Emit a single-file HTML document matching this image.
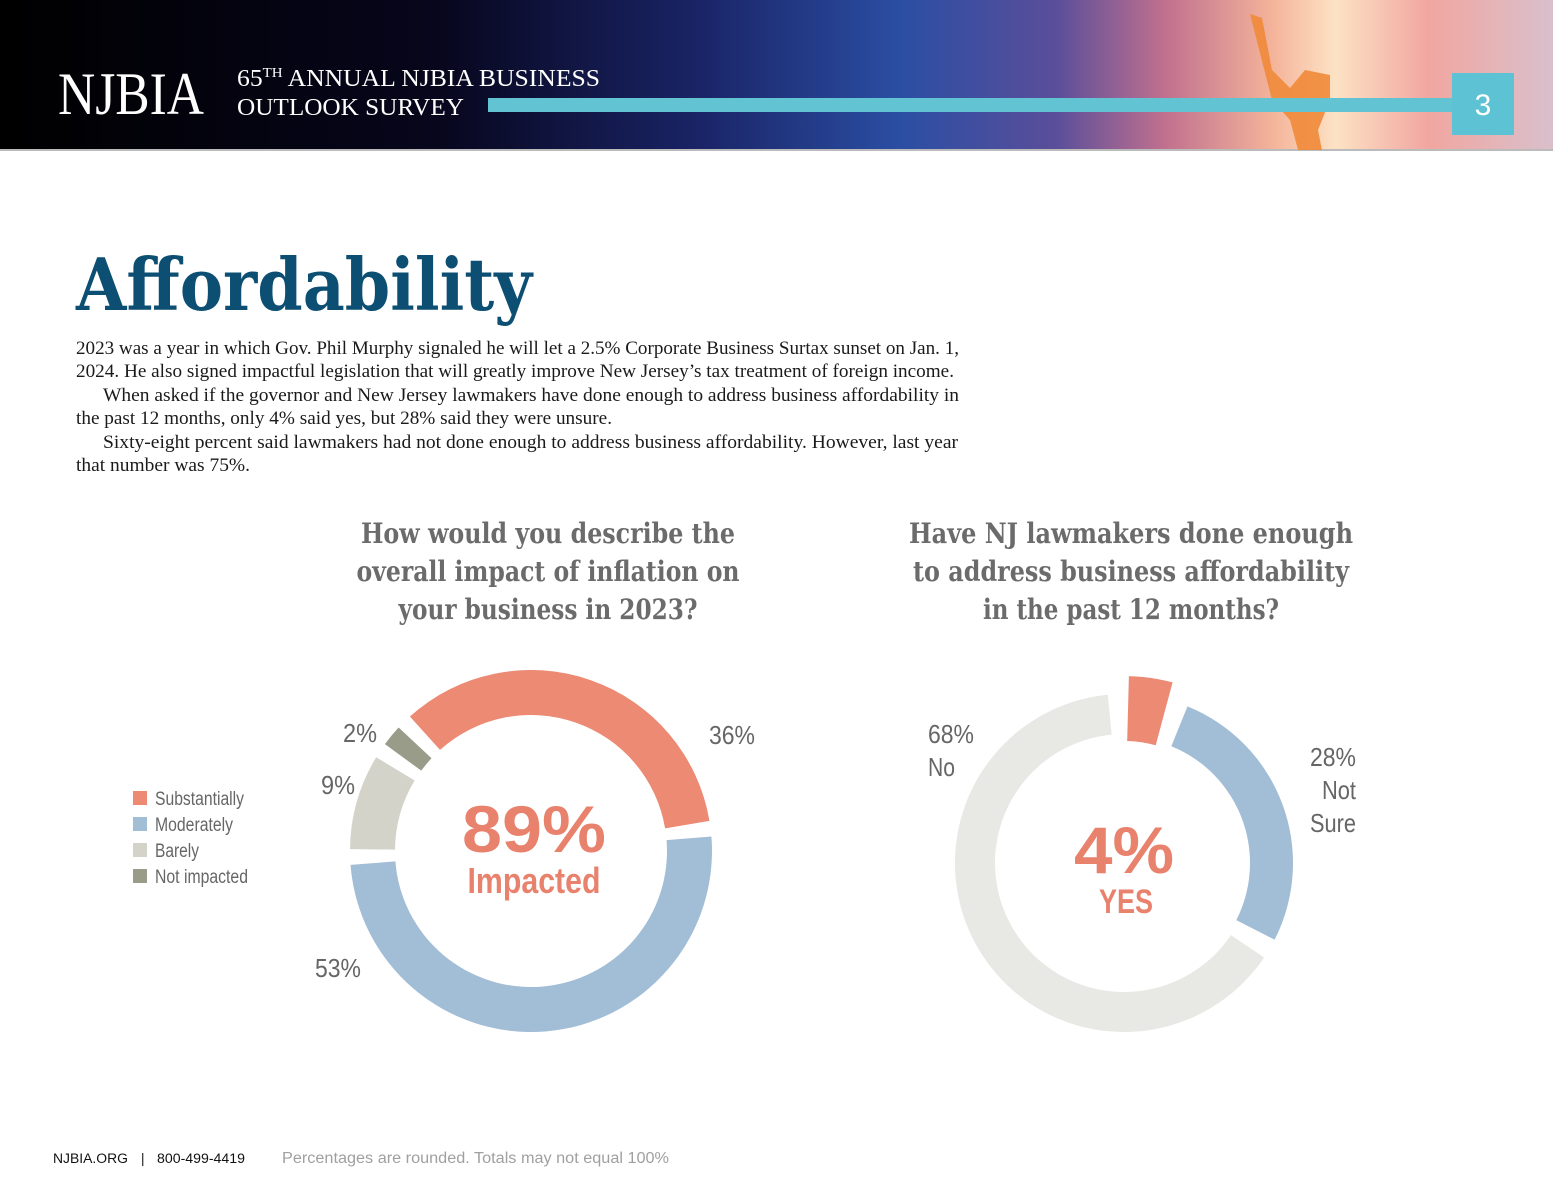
<!DOCTYPE html>
<html><head><meta charset="utf-8"><style>
html,body{margin:0;padding:0;background:#fff;}
svg{display:block;}
.body{font-family:"Liberation Serif",serif;font-size:18.5px;fill:#1a1a1a;}
.ct{font-family:"DejaVu Serif","Liberation Serif",serif;font-weight:bold;font-size:28px;fill:#6b6b6b;}
.lab{font-family:"Liberation Sans Narrow","Liberation Sans",sans-serif;font-size:26px;fill:#666;}
.leg{font-family:"Liberation Sans Narrow","Liberation Sans",sans-serif;font-size:19px;fill:#666;}
</style></head><body>
<svg id="page" width="1553" height="1200" viewBox="0 0 1553 1200">
<defs>
<linearGradient id="hdr" x1="0" x2="1" y1="0" y2="0">
<stop offset="0" stop-color="#000"/><stop offset="0.28" stop-color="#07061c"/>
<stop offset="0.45" stop-color="#1a2466"/><stop offset="0.58" stop-color="#2b4ea3"/>
<stop offset="0.68" stop-color="#5a4e9a"/><stop offset="0.75" stop-color="#c0708e"/>
<stop offset="0.82" stop-color="#f4b49a"/><stop offset="0.86" stop-color="#fde2c4"/>
<stop offset="0.92" stop-color="#f1a6a0"/><stop offset="1" stop-color="#d9c0cc"/>
</linearGradient>
</defs>
<g>
<rect x="0" y="0" width="1553" height="150" fill="url(#hdr)"/>
<rect x="0" y="149" width="1553" height="2" fill="#bbb"/>
<path d="M1250 14 L1262 18 L1272 70 L1290 88 L1305 70 L1330 75 L1330 100 L1318 130 L1322 150 L1298 150 L1290 120 L1272 100 Z" fill="#f08a3a" opacity="0.9"/>
<text x="58" y="114" font-family="Liberation Serif,serif" font-size="60" fill="#fff" textLength="146" lengthAdjust="spacingAndGlyphs">NJBIA</text>
<text x="237" y="86" font-family="Liberation Serif,serif" font-size="24" fill="#fff" textLength="363" lengthAdjust="spacingAndGlyphs">65<tspan font-size="14" dy="-9">TH</tspan><tspan dy="9"> ANNUAL NJBIA BUSINESS</tspan></text>
<text x="237" y="115" font-family="Liberation Serif,serif" font-size="24" fill="#fff" textLength="227" lengthAdjust="spacingAndGlyphs">OUTLOOK SURVEY</text>
<rect x="488" y="98" width="964" height="14" fill="#62c3d3"/>
<rect x="1452" y="73" width="62" height="62" fill="#5dc2d4"/>
<text x="1483" y="115" text-anchor="middle" font-family="Liberation Sans,sans-serif" font-size="30" fill="#fff">3</text>
</g>
<text x="76" y="310" font-family="DejaVu Serif,serif" font-weight="bold" font-size="72" fill="#0d4f73" textLength="456" lengthAdjust="spacingAndGlyphs">Affordability</text>
<g>
<text class="body" x="76" y="354" textLength="883" lengthAdjust="spacingAndGlyphs">2023 was a year in which Gov. Phil Murphy signaled he will let a 2.5% Corporate Business Surtax sunset on Jan. 1,</text>
<text class="body" x="76" y="377" textLength="878" lengthAdjust="spacingAndGlyphs">2024. He also signed impactful legislation that will greatly improve New Jersey’s tax treatment of foreign income.</text>
<text class="body" x="103" y="401" textLength="856" lengthAdjust="spacingAndGlyphs">When asked if the governor and New Jersey lawmakers have done enough to address business affordability in</text>
<text class="body" x="76" y="424" textLength="536" lengthAdjust="spacingAndGlyphs">the past 12 months, only 4% said yes, but 28% said they were unsure.</text>
<text class="body" x="103" y="448" textLength="855" lengthAdjust="spacingAndGlyphs">Sixty-eight percent said lawmakers had not done enough to address business affordability. However, last year</text>
<text class="body" x="76" y="471" textLength="174" lengthAdjust="spacingAndGlyphs">that number was 75%.</text>
</g>
<g>
<text class="ct" x="548" y="543" text-anchor="middle" textLength="374" lengthAdjust="spacingAndGlyphs">How would you describe the</text>
<text class="ct" x="548" y="581" text-anchor="middle" textLength="383" lengthAdjust="spacingAndGlyphs">overall impact of inflation on</text>
<text class="ct" x="548" y="619" text-anchor="middle" textLength="299" lengthAdjust="spacingAndGlyphs">your business in 2023?</text>
</g>
<g>
<text class="ct" x="1131" y="543" text-anchor="middle" textLength="444" lengthAdjust="spacingAndGlyphs">Have NJ lawmakers done enough</text>
<text class="ct" x="1131" y="581" text-anchor="middle" textLength="436" lengthAdjust="spacingAndGlyphs">to address business affordability</text>
<text class="ct" x="1131" y="619" text-anchor="middle" textLength="296" lengthAdjust="spacingAndGlyphs">in the past 12 months?</text>
</g>
<g id="donut1"></g>
<g id="donut2"></g>
<g id="legend1"></g>
<g>
<text class="lab" x="343" y="742" textLength="34" lengthAdjust="spacingAndGlyphs">2%</text>
<text class="lab" x="709" y="744" textLength="46" lengthAdjust="spacingAndGlyphs">36%</text>
<text class="lab" x="321" y="794" textLength="34" lengthAdjust="spacingAndGlyphs">9%</text>
<text class="lab" x="315" y="977" textLength="46" lengthAdjust="spacingAndGlyphs">53%</text>
</g>
<g>
<text class="lab" x="928" y="743" textLength="46" lengthAdjust="spacingAndGlyphs">68%</text>
<text class="lab" x="928" y="776" textLength="27" lengthAdjust="spacingAndGlyphs">No</text>
<text class="lab" x="1356" y="766" text-anchor="end" textLength="46" lengthAdjust="spacingAndGlyphs">28%</text>
<text class="lab" x="1356" y="799" text-anchor="end" textLength="34" lengthAdjust="spacingAndGlyphs">Not</text>
<text class="lab" x="1356" y="832" text-anchor="end" textLength="46" lengthAdjust="spacingAndGlyphs">Sure</text>
</g>
<g>
<text x="534" y="852" text-anchor="middle" font-family="Liberation Sans,sans-serif" font-weight="bold" font-size="66" fill="#e8826d" textLength="144" lengthAdjust="spacingAndGlyphs">89%</text>
<text x="534" y="893" text-anchor="middle" font-family="Liberation Sans Narrow,Liberation Sans,sans-serif" font-weight="bold" font-size="36" fill="#e8826d" textLength="133" lengthAdjust="spacingAndGlyphs">Impacted</text>
</g>
<g>
<text x="1124" y="873" text-anchor="middle" font-family="Liberation Sans,sans-serif" font-weight="bold" font-size="66" fill="#e8826d" textLength="100" lengthAdjust="spacingAndGlyphs">4%</text>
<text x="1126" y="913" text-anchor="middle" font-family="Liberation Sans Narrow,Liberation Sans,sans-serif" font-weight="bold" font-size="34" fill="#e8826d" textLength="54" lengthAdjust="spacingAndGlyphs">YES</text>
</g>
<g>
<text x="53" y="1163" font-family="Liberation Sans,sans-serif" font-size="13.5" fill="#111" textLength="75" lengthAdjust="spacingAndGlyphs">NJBIA.ORG</text>
<text x="141" y="1163" font-family="Liberation Sans,sans-serif" font-size="13.5" fill="#111">|</text>
<text x="157" y="1163" font-family="Liberation Sans,sans-serif" font-size="13.5" fill="#111" textLength="88" lengthAdjust="spacingAndGlyphs">800-499-4419</text>
<text x="282" y="1163" font-family="Liberation Sans,sans-serif" font-size="15.5" fill="#a0a0a0" textLength="387" lengthAdjust="spacingAndGlyphs">Percentages are rounded. Totals may not equal 100%</text>
</g>
</svg>
<script>
const NS='http://www.w3.org/2000/svg';
const inflCategories=['Substantially','Moderately','Barely','Not impacted'];
const inflValues=[36,53,9,2];
const lawCategories=['Yes','Not Sure','No'];
const lawValues=[4,28,68];

const inflColors=['#ec8a73','#a2bdd6','#d3d3c9','#9a9c8a'];
const legendWidths=[89,78,44,93];
const lawColors=['#ec8a73','#a2bdd6','#e8e8e4'];
const lawOuter=[187,169,169], lawInner=[122,126,129];

function pt(cx,cy,r,a){const t=a*Math.PI/180;return [cx+r*Math.sin(t),cy-r*Math.cos(t)];}
function arc(cx,cy,ro,ri,a0,a1){
  const l=(a1-a0)>180?1:0;
  const p0=pt(cx,cy,ro,a0),p1=pt(cx,cy,ro,a1),p2=pt(cx,cy,ri,a1),p3=pt(cx,cy,ri,a0);
  return `M${p0[0]} ${p0[1]} A${ro} ${ro} 0 ${l} 1 ${p1[0]} ${p1[1]} L${p2[0]} ${p2[1]} A${ri} ${ri} 0 ${l} 0 ${p3[0]} ${p3[1]} Z`;
}
function donut(g,vals,cats,colors,cx,cy,start,gap,ro,ri,prefix){
  const total=vals.reduce((a,b)=>a+b,0);
  const sweep=360-gap*vals.length;
  let a=start;
  vals.forEach((v,i)=>{
    const span=v/total*sweep;
    const p=document.createElementNS(NS,'path');
    const R=Array.isArray(ro)?ro[i]:ro, r=Array.isArray(ri)?ri[i]:ri;
    p.setAttribute('d',arc(cx,cy,R,r,a,a+span));
    p.setAttribute('fill',colors[i]);
    
    
    g.appendChild(p);
    a+=span+gap;
  });
}
donut(document.getElementById('donut1'),inflValues,inflCategories,inflColors,531,851,-42,5,181,136,'inflation');
donut(document.getElementById('donut2'),lawValues,lawCategories,lawColors,1124,863,1.5,7,lawOuter,lawInner,'lawmakers');

const lg=document.getElementById('legend1');
inflCategories.forEach((c,i)=>{
  const r=document.createElementNS(NS,'rect');
  r.setAttribute('x',133);r.setAttribute('y',791+i*26);r.setAttribute('width',14);r.setAttribute('height',14);
  r.setAttribute('fill',inflColors[i]);
  
  
  lg.appendChild(r);
  const t=document.createElementNS(NS,'text');
  t.setAttribute('x',155);t.setAttribute('y',805+i*26);t.setAttribute('class','leg');
  t.setAttribute('textLength',legendWidths[i]);t.setAttribute('lengthAdjust','spacingAndGlyphs');
  t.textContent=c;
  
  
  lg.appendChild(t);
});
</script>
</body></html>
